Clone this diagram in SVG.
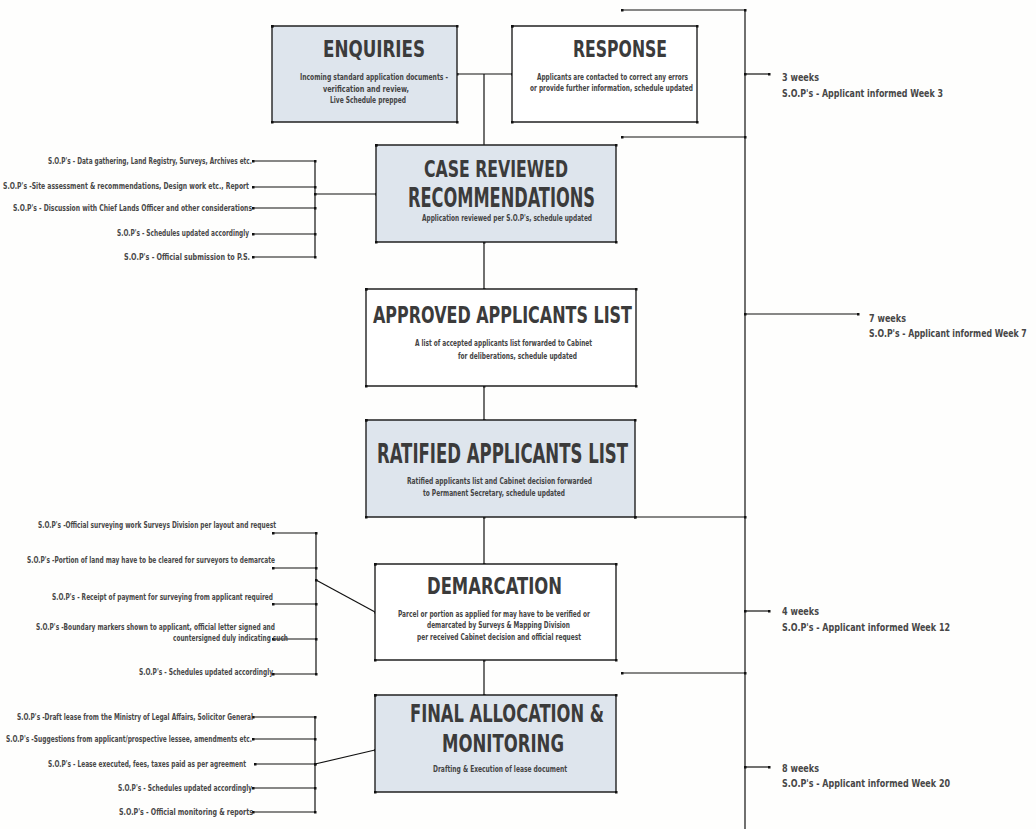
<svg xmlns="http://www.w3.org/2000/svg" width="1036" height="829" viewBox="0 0 1036 829">
<defs>
<marker id="dot" markerWidth="3" markerHeight="3" refX="1.5" refY="1.5" markerUnits="userSpaceOnUse"><rect width="3" height="3" fill="#111"/></marker>
<style>
.box{stroke:#222;stroke-width:1.4;marker-start:url(#dot);marker-mid:url(#dot);marker-end:url(#dot)}
.fill{fill:#dee5ed}
.white{fill:#ffffff}
.c{fill:none;stroke:#111;stroke-width:1.2}
.m{marker-start:url(#dot);marker-end:url(#dot)}
.t{font-family:"DejaVu Sans Condensed","DejaVu Sans",sans-serif;font-weight:bold;fill:#3b3b3b}
.s{font-family:"DejaVu Sans Condensed","DejaVu Sans",sans-serif;font-weight:bold;font-size:9px;fill:#444}
.p{font-family:"DejaVu Sans Condensed","DejaVu Sans",sans-serif;font-weight:bold;font-size:8.5px;fill:#484848}
.w{font-family:"DejaVu Sans Condensed","DejaVu Sans",sans-serif;font-weight:bold;font-size:11px;fill:#474747}
</style>
</defs>
<rect width="1036" height="829" fill="#fefefd"/>

<g id="connectors">
<path class="c m" d="M457,74 H512"/>
<path class="c" d="M484,74 V145"/>
<path class="c m" d="M484,242 V289"/>
<path class="c m" d="M484,386 V420"/>
<path class="c m" d="M484,517 V564"/>
<path class="c m" d="M484,660 V695"/>
<path class="c" d="M745,10 V829"/>
<path class="c m" d="M622,10 H745"/>
<path class="c m" d="M622,137 H745"/>
<path class="c m" d="M745,74 H769"/>
<path class="c m" d="M745,314 H858"/>
<path class="c m" d="M635,517 H745"/>
<path class="c m" d="M745,611 H769"/>
<path class="c m" d="M622,673 H745"/>
<path class="c m" d="M745,767 H769"/>
<path class="c" d="M315,161 V257"/>
<path class="c m" d="M253,161 H315"/>
<path class="c m" d="M253,187 H315"/>
<path class="c m" d="M253,208 H315"/>
<path class="c m" d="M253,234 H315"/>
<path class="c m" d="M253,257 H315"/>
<path class="c m" d="M315,194 H376"/>
<path class="c" d="M316,533 V674"/>
<path class="c m" d="M273,533 H316"/>
<path class="c m" d="M273,568 H316"/>
<path class="c m" d="M273,604 H316"/>
<path class="c m" d="M273,639 H316"/>
<path class="c m" d="M273,674 H316"/>
<path class="c m" d="M316,580 L375,612"/>
<path class="c" d="M315,717 V812"/>
<path class="c m" d="M253,717 H315"/>
<path class="c m" d="M253,739 H315"/>
<path class="c m" d="M255,764 H315"/>
<path class="c m" d="M253,788 H315"/>
<path class="c m" d="M253,812 H315"/>
<path class="c m" d="M315,764 L375,750"/>
</g>

<g id="enquiries">
<path class="box fill" d="M272,26 H457 V122 H272 Z"/>
<text class="t" x="323" y="57" font-size="23" textLength="102" lengthAdjust="spacingAndGlyphs">ENQUIRIES</text>
<text class="s" x="300" y="80" textLength="148" lengthAdjust="spacingAndGlyphs">Incoming standard application documents -</text>
<text class="s" x="323" y="92" textLength="86" lengthAdjust="spacingAndGlyphs">verification and review,</text>
<text class="s" x="330" y="103" textLength="76" lengthAdjust="spacingAndGlyphs">Live Schedule prepped</text>
</g>

<g id="response">
<path class="box white" d="M512,26 H697 V122 H512 Z"/>
<text class="t" x="573" y="57" font-size="23" textLength="94" lengthAdjust="spacingAndGlyphs">RESPONSE</text>
<text class="s" x="537" y="80" textLength="151" lengthAdjust="spacingAndGlyphs">Applicants are contacted to correct any errors</text>
<text class="s" x="530" y="91" textLength="163" lengthAdjust="spacingAndGlyphs">or provide further information, schedule updated</text>
</g>

<g id="case-reviewed">
<path class="box fill" d="M376,145 H616 V242 H376 Z"/>
<text class="t" x="424" y="177" font-size="23" textLength="144" lengthAdjust="spacingAndGlyphs">CASE REVIEWED</text>
<text class="t" x="408" y="207" font-size="27" textLength="187" lengthAdjust="spacingAndGlyphs">RECOMMENDATIONS</text>
<text class="s" x="422" y="221" textLength="170" lengthAdjust="spacingAndGlyphs">Application reviewed per S.O.P's, schedule updated</text>
</g>

<g id="approved">
<path class="box white" d="M366,289 H636 V386 H366 Z"/>
<text class="t" x="373" y="323" font-size="23" textLength="259" lengthAdjust="spacingAndGlyphs">APPROVED APPLICANTS LIST</text>
<text class="s" x="415" y="346" textLength="177" lengthAdjust="spacingAndGlyphs">A list of accepted applicants list forwarded to Cabinet</text>
<text class="s" x="458" y="359" textLength="119" lengthAdjust="spacingAndGlyphs">for deliberations, schedule updated</text>
</g>

<g id="ratified">
<path class="box fill" d="M366,420 H635 V517 H366 Z"/>
<text class="t" x="377" y="463" font-size="27" textLength="251" lengthAdjust="spacingAndGlyphs">RATIFIED APPLICANTS LIST</text>
<text class="s" x="407" y="484" textLength="185" lengthAdjust="spacingAndGlyphs">Ratified applicants list and Cabinet decision  forwarded</text>
<text class="s" x="423" y="496" textLength="142" lengthAdjust="spacingAndGlyphs">to Permanent Secretary, schedule updated</text>
</g>

<g id="demarcation">
<path class="box white" d="M375,564 H616 V660 H375 Z"/>
<text class="t" x="427" y="594" font-size="23" textLength="135" lengthAdjust="spacingAndGlyphs">DEMARCATION</text>
<text class="s" x="398" y="617" textLength="192" lengthAdjust="spacingAndGlyphs">Parcel or portion as applied for may have to be verified or</text>
<text class="s" x="427" y="628" textLength="143" lengthAdjust="spacingAndGlyphs">demarcated by Surveys &amp; Mapping Division</text>
<text class="s" x="417" y="640" textLength="164" lengthAdjust="spacingAndGlyphs">per received Cabinet decision and official request</text>
</g>

<g id="final-allocation">
<path class="box fill" d="M375,695 H616 V792 H375 Z"/>
<text class="t" x="410" y="722" font-size="25" textLength="194" lengthAdjust="spacingAndGlyphs">FINAL ALLOCATION &amp;</text>
<text class="t" x="442" y="752" font-size="24" textLength="122" lengthAdjust="spacingAndGlyphs">MONITORING</text>
<text class="s" x="433" y="772" textLength="134" lengthAdjust="spacingAndGlyphs">Drafting &amp; Execution of lease document</text>
</g>

<g id="sop-case-reviewed">
<text class="p" x="48" y="164" textLength="204" lengthAdjust="spacingAndGlyphs">S.O.P's - Data gathering, Land Registry, Surveys, Archives etc.</text>
<text class="p" x="3" y="189" textLength="246" lengthAdjust="spacingAndGlyphs">S.O.P's -Site assessment &amp; recommendations, Design work etc., Report</text>
<text class="p" x="13" y="211" textLength="239" lengthAdjust="spacingAndGlyphs">S.O.P's - Discussion with Chief Lands Officer and other considerations</text>
<text class="p" x="117" y="236" textLength="132" lengthAdjust="spacingAndGlyphs">S.O.P's - Schedules updated accordingly</text>
<text class="p" x="124" y="260" textLength="126" lengthAdjust="spacingAndGlyphs">S.O.P's - Official submission to P.S.</text>
</g>

<g id="sop-demarcation">
<text class="p" x="38" y="528" textLength="238" lengthAdjust="spacingAndGlyphs">S.O.P's -Official surveying work Surveys Division per layout and request</text>
<text class="p" x="27" y="563" textLength="248" lengthAdjust="spacingAndGlyphs">S.O.P's -Portion of land may have to be cleared for surveyors to demarcate</text>
<text class="p" x="52" y="600" textLength="221" lengthAdjust="spacingAndGlyphs">S.O.P's - Receipt of payment for surveying from applicant required</text>
<text class="p" x="36" y="630" textLength="239" lengthAdjust="spacingAndGlyphs">S.O.P's -Boundary markers shown to applicant, official letter signed and</text>
<text class="p" x="173" y="641" textLength="115" lengthAdjust="spacingAndGlyphs">countersigned duly indicating such</text>
<text class="p" x="139" y="675" textLength="134" lengthAdjust="spacingAndGlyphs">S.O.P's - Schedules updated accordingly</text>
</g>

<g id="sop-final">
<text class="p" x="17" y="720" textLength="236" lengthAdjust="spacingAndGlyphs">S.O.P's -Draft lease from the Ministry of Legal Affairs, Solicitor General</text>
<text class="p" x="6" y="742" textLength="246" lengthAdjust="spacingAndGlyphs">S.O.P's -Suggestions from applicant/prospective lessee, amendments etc.</text>
<text class="p" x="48" y="767" textLength="198" lengthAdjust="spacingAndGlyphs">S.O.P's - Lease executed, fees, taxes paid as per agreement</text>
<text class="p" x="118" y="791" textLength="134" lengthAdjust="spacingAndGlyphs">S.O.P's - Schedules updated accordingly</text>
<text class="p" x="119" y="815" textLength="134" lengthAdjust="spacingAndGlyphs">S.O.P's - Official monitoring &amp; reports</text>
</g>

<g id="timeline-labels">
<text class="w" x="782" y="81" textLength="37" lengthAdjust="spacingAndGlyphs">3 weeks</text>
<text class="w" x="782" y="97" textLength="161" lengthAdjust="spacingAndGlyphs">S.O.P's - Applicant informed Week 3</text>
<text class="w" x="869" y="322" textLength="37" lengthAdjust="spacingAndGlyphs">7 weeks</text>
<text class="w" transform="translate(869,337) scale(0.72,1)" x="0" y="0" textLength="219" lengthAdjust="spacingAndGlyphs">S.O.P's - Applicant informed Week 7</text>
<text class="w" x="782" y="615" textLength="37" lengthAdjust="spacingAndGlyphs">4 weeks</text>
<text class="w" x="782" y="631" textLength="168" lengthAdjust="spacingAndGlyphs">S.O.P's - Applicant informed Week 12</text>
<text class="w" x="782" y="772" textLength="37" lengthAdjust="spacingAndGlyphs">8 weeks</text>
<text class="w" x="782" y="787" textLength="168" lengthAdjust="spacingAndGlyphs">S.O.P's - Applicant informed Week 20</text>
</g>
</svg>
